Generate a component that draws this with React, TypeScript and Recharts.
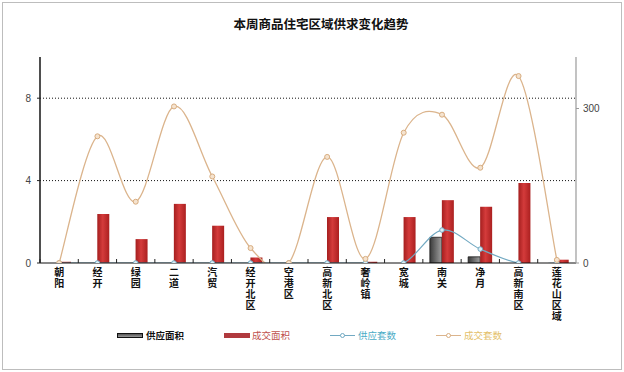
import React from 'react';
import { ComposedChart, Bar, Line, XAxis, YAxis, ReferenceLine } from 'recharts';

const categories = ['朝阳', '经开', '绿园', '二道', '汽贸', '经开北区', '空港区', '高新北区', '奢岭镇', '宽城', '南关', '净月', '高新南区', '莲花山区域'];
const supplyArea = [0, 0, 0, 0, 0, 0, 0, 0, 0, 0, 1.25, 0.3, 0, 0];
const dealArea = [0.06, 2.38, 1.16, 2.87, 1.81, 0.27, 0, 2.23, 0.06, 2.23, 3.05, 2.73, 3.88, 0.16];
const supplyUnits = [0, 0, 0, 0, 0, 0, 0, 0, 0, 0, 64, 27, 0, 0];
const dealUnits = [0, 246, 119, 304, 168, 29, 0, 206, 8, 253, 288, 185, 363, 6];
const leftTicks = [0, 4, 8];
const rightTicks = [0, 300];
const gridValues = [4, 8];
const title = '本周商品住宅区域供求变化趋势';
const legendLabels = ['供应面积', '成交面积', '供应套数', '成交套数'];

const data = categories.map((name, i) => ({
  name,
  supplyArea: supplyArea[i],
  dealArea: dealArea[i],
  supplyUnits: supplyUnits[i],
  dealUnits: dealUnits[i],
}));

// Excel-like smoothed line (Catmull-Rom through points)
function excelSmooth(context: any) {
  let pts: number[][] = [];
  return {
    areaStart() {},
    areaEnd() {},
    lineStart() {
      pts = [];
    },
    point(x: number, y: number) {
      pts.push([+x, +y]);
    },
    lineEnd() {
      const n = pts.length;
      if (!n) return;
      context.moveTo(pts[0][0], pts[0][1]);
      for (let i = 0; i < n - 1; i++) {
        const p0 = pts[i - 1] || pts[i];
        const p1 = pts[i];
        const p2 = pts[i + 1];
        const p3 = pts[i + 2] || p2;
        context.bezierCurveTo(
          p1[0] + (p2[0] - p0[0]) / 6,
          p1[1] + (p2[1] - p0[1]) / 6,
          p2[0] - (p3[0] - p1[0]) / 6,
          p2[1] - (p3[1] - p1[1]) / 6,
          p2[0],
          p2[1]
        );
      }
    },
  };
}

const BAND = 536 / 14;

const CategoryTick = (props: any) => {
  const { x, y, payload } = props;
  const chars = String(payload.value).split('');
  return (
    <g>
      <line x1={x - BAND / 2} x2={x - BAND / 2} y1={y - 4} y2={y} stroke="#222" strokeWidth={1} />
      <text
        x={x}
        y={y}
        textAnchor="middle"
        fontSize={10}
        fontWeight="bold"
        fill="#111"
        fontFamily="'Noto Sans CJK SC', sans-serif"
      >
        {chars.map((c, i) => (
          <tspan key={i} x={x} dy={i === 0 ? 12.5 : 11}>
            {c}
          </tspan>
        ))}
      </text>
    </g>
  );
};

const legendFont = "'Noto Sans CJK SC', sans-serif";

export default function App() {
  return (
    <div style={{ position: 'absolute', left: 0, top: 0, width: 624, height: 372, background: '#fff' }}>
      <ComposedChart
        width={624}
        height={372}
        data={data}
        margin={{ top: 57, right: 0, bottom: 39, left: 0 }}
        barSize={12}
        barGap={0}
      >
        <defs>
          <linearGradient id="redGrad" x1="0" y1="0" x2="1" y2="0">
            <stop offset="0%" stopColor="#a51f1f" />
            <stop offset="45%" stopColor="#d43b3b" />
            <stop offset="100%" stopColor="#ab2020" />
          </linearGradient>
          <linearGradient id="grayGrad" x1="0" y1="0" x2="1" y2="0">
            <stop offset="0%" stopColor="#3a3a3a" />
            <stop offset="100%" stopColor="#a0a0a0" />
          </linearGradient>
        </defs>
        <text
          x={321}
          y={29}
          textAnchor="middle"
          fontSize={12.5}
          fontWeight="bold"
          fill="#111"
          fontFamily="'Noto Sans CJK SC', sans-serif"
        >
          {title}
        </text>
        <XAxis
          dataKey="name"
          xAxisId="x"
          height={70}
          interval={0}
          tickLine={false}
          tickSize={0}
          tickMargin={0}
          tick={<CategoryTick />}
          axisLine={{ stroke: '#111', strokeWidth: 1.2 }}
        />
        <YAxis
          yAxisId="left"
          orientation="left"
          width={40}
          domain={[0, 10]}
          ticks={leftTicks}
          allowDataOverflow
          tickSize={3}
          tickMargin={6}
          tick={{ fontSize: 10, fill: '#444', fontFamily: 'Liberation Sans, Arial, sans-serif' }}
          axisLine={{ stroke: '#222', strokeWidth: 1.6 }}
          tickLine={{ stroke: '#222' }}
        />
        <YAxis
          yAxisId="right"
          orientation="right"
          width={48}
          domain={[0, 400]}
          ticks={rightTicks}
          allowDataOverflow
          tickSize={3}
          tickMargin={4}
          tick={{ fontSize: 10, fill: '#444', fontFamily: 'Liberation Sans, Arial, sans-serif' }}
          axisLine={{ stroke: '#9a9a9a', strokeWidth: 1.2 }}
          tickLine={{ stroke: '#9a9a9a' }}
        />
        {gridValues.map((v) => (
          <ReferenceLine
            key={v}
            xAxisId="x"
            yAxisId="left"
            y={v}
            stroke="#111"
            strokeWidth={1}
            strokeDasharray="1 2"
          />
        ))}
        <Bar
          xAxisId="x"
          yAxisId="left"
          dataKey="supplyArea"
          fill="url(#grayGrad)"
          stroke="#1a1a1a"
          strokeWidth={0.8}
          isAnimationActive={false}
        />
        <Bar
          xAxisId="x"
          yAxisId="left"
          dataKey="dealArea"
          fill="url(#redGrad)"
          isAnimationActive={false}
        />
        <Line
          xAxisId="x"
          yAxisId="right"
          dataKey="supplyUnits"
          type={excelSmooth as any}
          stroke="#72a9c2"
          strokeWidth={1.2}
          dot={{ r: 2.3, stroke: '#72a9c2', strokeWidth: 1, fill: '#dceef5' }}
          isAnimationActive={false}
        />
        <Line
          xAxisId="x"
          yAxisId="right"
          dataKey="dealUnits"
          type={excelSmooth as any}
          stroke="#dbb48c"
          strokeWidth={1.3}
          dot={{ r: 2.5, stroke: '#d8ad80', strokeWidth: 1, fill: '#f5e3cf' }}
          isAnimationActive={false}
        />
      </ComposedChart>

      {/* legend */}
      <div style={{ position: 'absolute', left: 0, top: 0, width: 624, height: 372, pointerEvents: 'none', fontFamily: legendFont, fontSize: 9.5 }}>
        <div style={{ position: 'absolute', left: 117, top: 333, width: 26, height: 5, background: 'linear-gradient(#555, #999)', border: '1px solid #111', boxSizing: 'border-box' }} />
        <div style={{ position: 'absolute', left: 146, top: 328, color: '#111', fontWeight: 'bold', lineHeight: '14px' }}>{legendLabels[0]}</div>
        <div style={{ position: 'absolute', left: 224, top: 333, width: 26, height: 5, background: '#b03a3e' }} />
        <div style={{ position: 'absolute', left: 252, top: 328, color: '#c0504d', lineHeight: '14px' }}>{legendLabels[1]}</div>
        <div style={{ position: 'absolute', left: 330, top: 335, width: 25, height: 1, background: '#72a9c2' }} />
        <div style={{ position: 'absolute', left: 340, top: 333, width: 5, height: 5, borderRadius: 3, border: '1px solid #72a9c2', background: '#fff', boxSizing: 'border-box' }} />
        <div style={{ position: 'absolute', left: 358, top: 328, color: '#4bacc6', lineHeight: '14px' }}>{legendLabels[2]}</div>
        <div style={{ position: 'absolute', left: 436, top: 335, width: 25, height: 1, background: '#dbb48c' }} />
        <div style={{ position: 'absolute', left: 446, top: 333, width: 5, height: 5, borderRadius: 3, border: '1px solid #d8ad80', background: '#fff', boxSizing: 'border-box' }} />
        <div style={{ position: 'absolute', left: 464, top: 328, color: '#e4bf6a', lineHeight: '14px' }}>{legendLabels[3]}</div>
        <div style={{ position: 'absolute', left: 2, top: 2, width: 620, height: 368, border: '1px solid #bdbdbd', boxSizing: 'border-box' }} />
      </div>
    </div>
  );
}
